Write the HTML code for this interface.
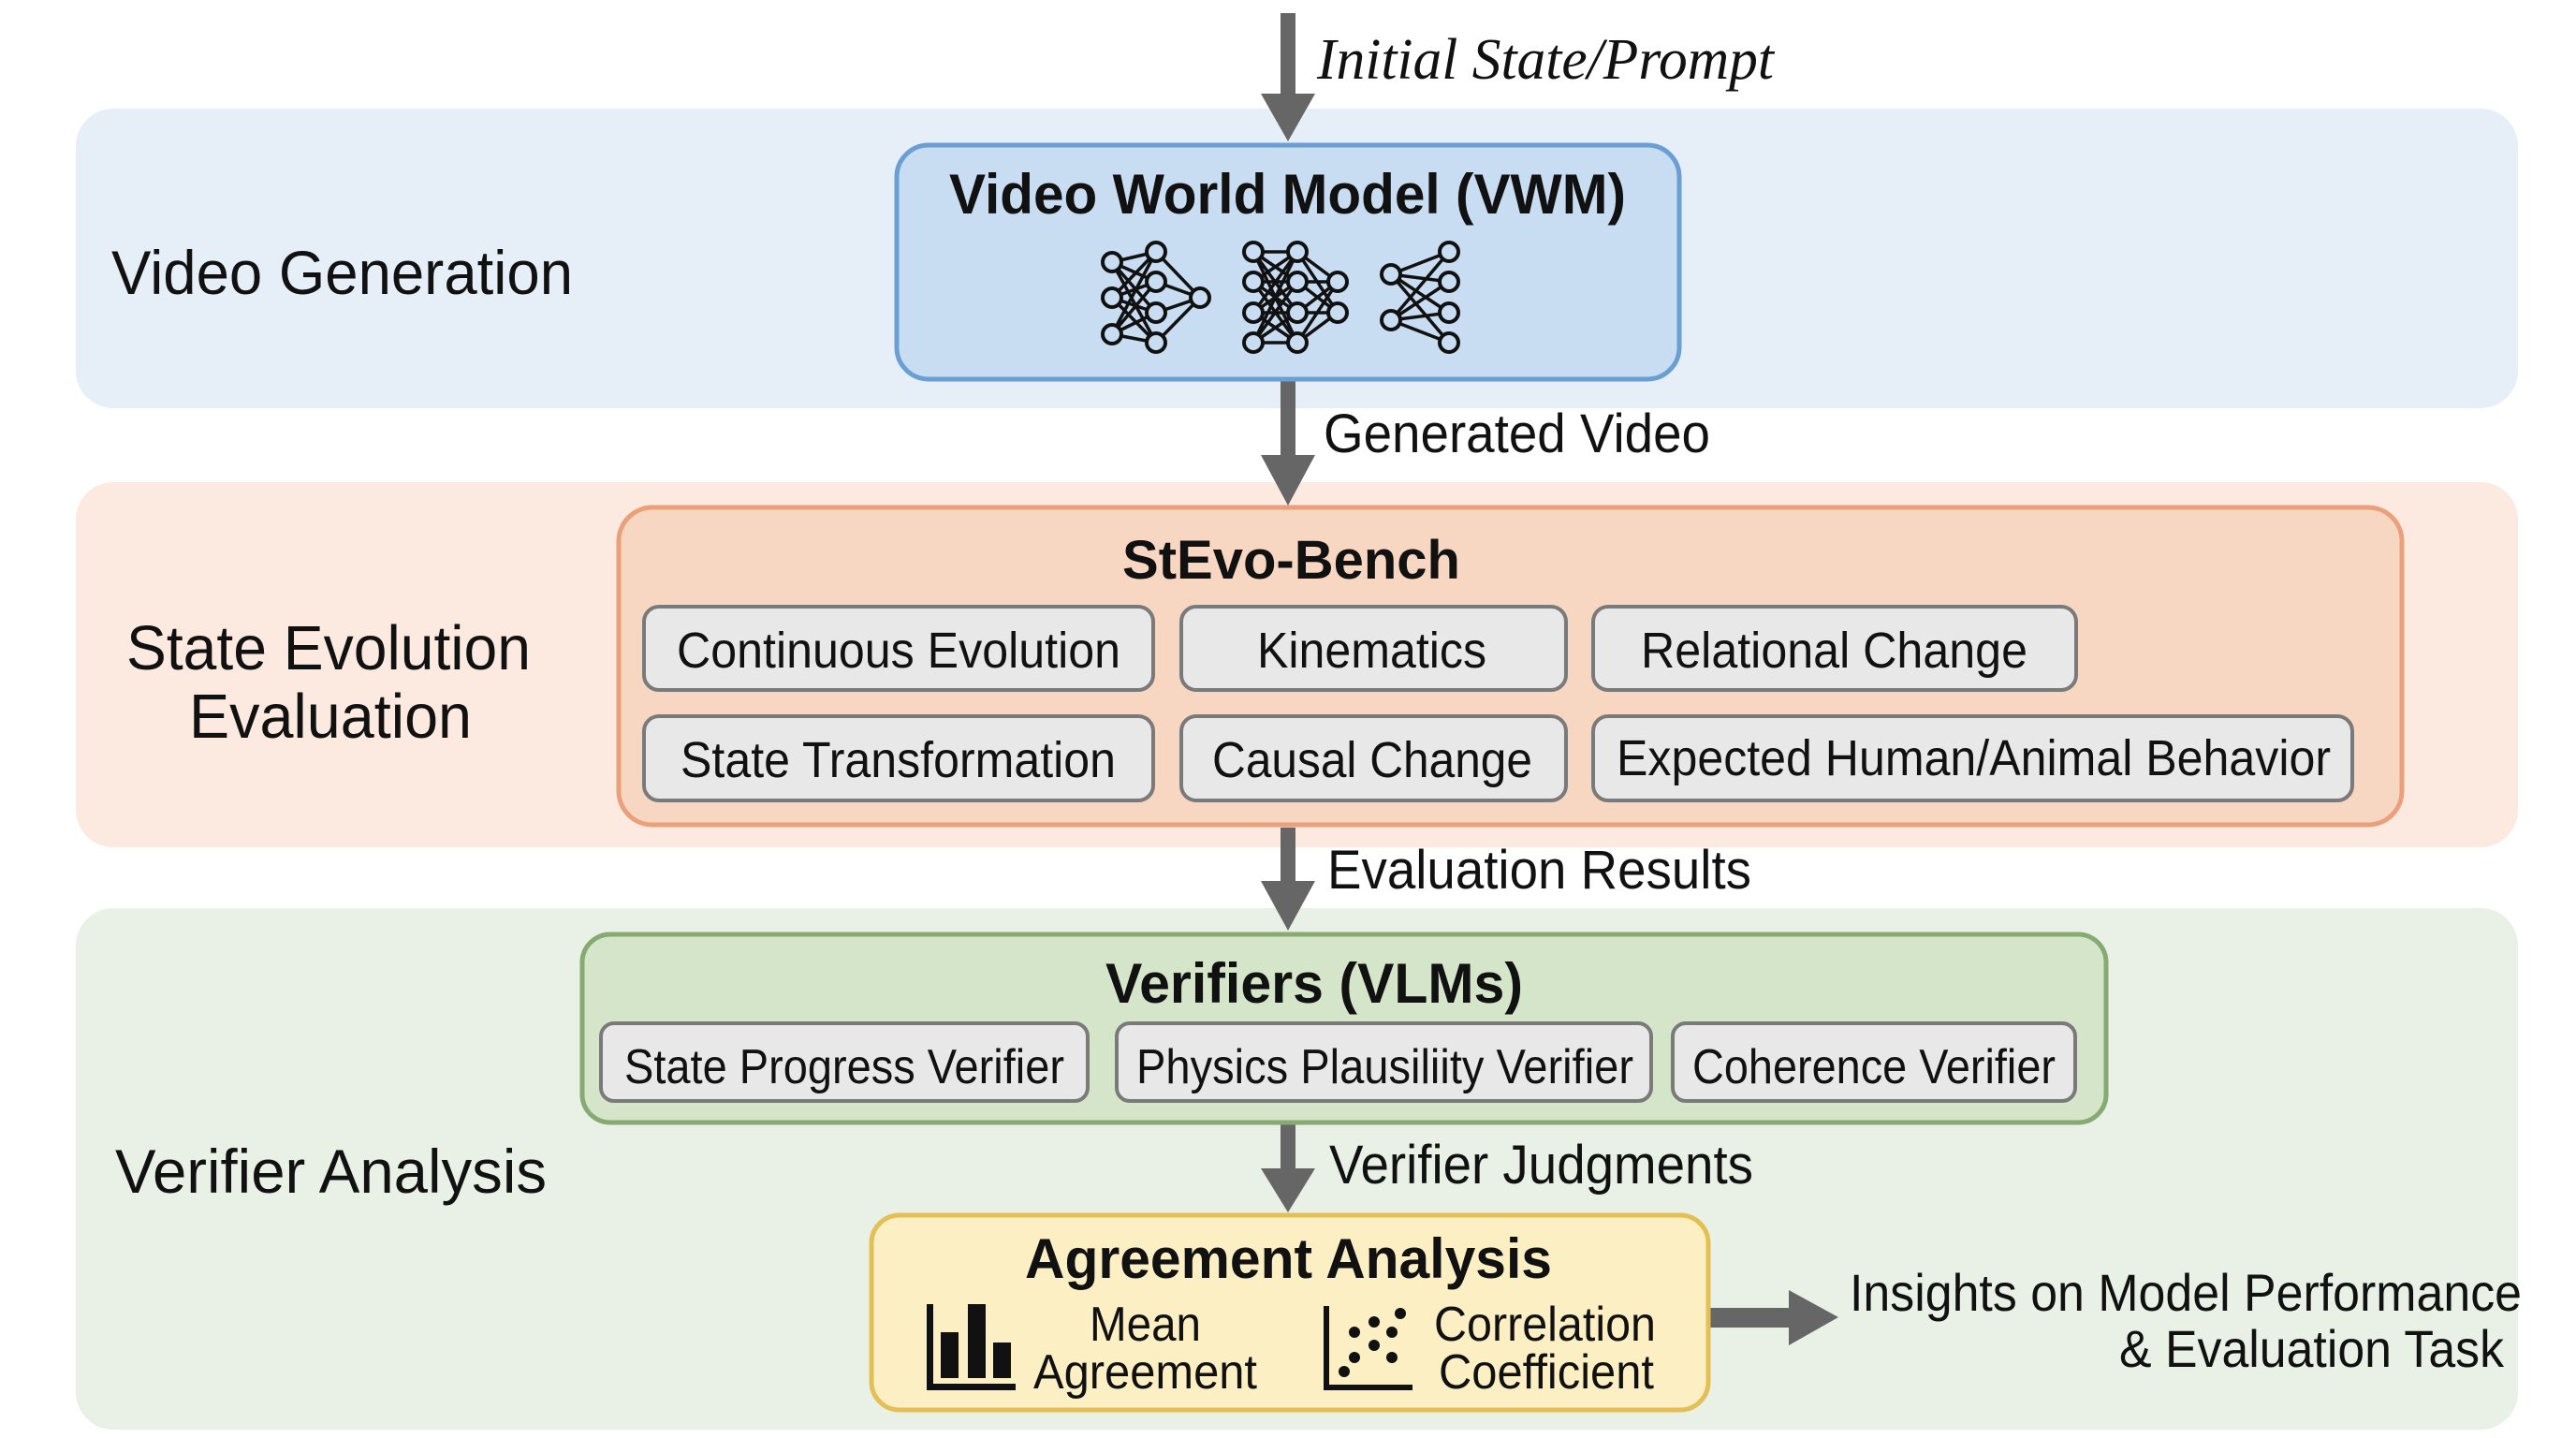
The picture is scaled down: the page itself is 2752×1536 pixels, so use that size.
<!DOCTYPE html>
<html><head><meta charset="utf-8"><style>
html,body{margin:0;padding:0;background:#fff;}
svg{display:block;}
text{font-family:"Liberation Sans",Arial,sans-serif;fill:#111;}
</style></head><body>
<svg width="2752" height="1536" viewBox="0 0 2752 1536" xmlns="http://www.w3.org/2000/svg">
<!-- bands -->
<rect x="81" y="116" width="2609" height="320" rx="40" fill="#e6eff8"/>
<rect x="81" y="515" width="2609" height="390" rx="40" fill="#fce9df"/>
<rect x="81" y="970" width="2609" height="557" rx="40" fill="#e9f0e6"/>

<!-- band labels -->
<text x="119" y="314" font-size="66" textLength="493" lengthAdjust="spacingAndGlyphs">Video Generation</text>
<text x="135" y="715" font-size="67" textLength="432" lengthAdjust="spacingAndGlyphs">State Evolution</text>
<text x="202" y="788" font-size="67" textLength="302" lengthAdjust="spacingAndGlyphs">Evaluation</text>
<text x="123" y="1274" font-size="66" textLength="461" lengthAdjust="spacingAndGlyphs">Verifier Analysis</text>

<!-- arrows -->
<g fill="#666">
<rect x="1368" y="14" width="16" height="88"/><polygon points="1347,100 1405,100 1376,151"/>
<rect x="1368" y="407" width="16" height="82"/><polygon points="1347,486 1405,486 1376,540"/>
<rect x="1368" y="884" width="16" height="60"/><polygon points="1347,941 1405,941 1376,994"/>
<rect x="1368" y="1200" width="16" height="52"/><polygon points="1347,1248 1405,1248 1376,1295"/>
<rect x="1827" y="1397" width="88" height="21"/><polygon points="1911,1378 1911,1437 1964,1407"/>
</g>
<text x="1407" y="84" font-family="Liberation Serif,serif" font-style="italic" font-size="62" textLength="488" lengthAdjust="spacingAndGlyphs" style="font-family:'Liberation Serif',serif">Initial State/Prompt</text>
<text x="1414" y="483" font-size="58" textLength="413" lengthAdjust="spacingAndGlyphs">Generated Video</text>
<text x="1418" y="949" font-size="58" textLength="453" lengthAdjust="spacingAndGlyphs">Evaluation Results</text>
<text x="1420" y="1264" font-size="58" textLength="453" lengthAdjust="spacingAndGlyphs">Verifier Judgments</text>
<text x="1976" y="1400" font-size="56" textLength="718" lengthAdjust="spacingAndGlyphs">Insights on Model Performance</text>
<text x="2264" y="1460" font-size="56" textLength="411" lengthAdjust="spacingAndGlyphs">&amp; Evaluation Task</text>

<!-- VWM -->
<rect x="958" y="155" width="836" height="250" rx="34" fill="#c8ddf2" stroke="#6b9fd4" stroke-width="5"/>
<text x="1014" y="228" font-size="60" font-weight="bold" textLength="723" lengthAdjust="spacingAndGlyphs">Video World Model (VWM)</text>
<g stroke="#111" stroke-width="3.5" fill="none">
<path d="M1188 280L1235 269M1188 280L1235 301M1188 280L1235 334M1188 280L1235 366M1188 318L1235 269M1188 318L1235 301M1188 318L1235 334M1188 318L1235 366M1188 357L1235 269M1188 357L1235 301M1188 357L1235 334M1188 357L1235 366M1235 269L1282 318M1235 301L1282 318M1235 334L1282 318M1235 366L1282 318"/>
<path d="M1339 269L1386 269M1339 269L1386 301M1339 269L1386 334M1339 269L1386 366M1339 301L1386 269M1339 301L1386 301M1339 301L1386 334M1339 301L1386 366M1339 334L1386 269M1339 334L1386 301M1339 334L1386 334M1339 334L1386 366M1339 366L1386 269M1339 366L1386 301M1339 366L1386 334M1339 366L1386 366M1386 269L1429 301M1386 301L1429 301M1386 334L1429 301M1386 366L1429 301M1386 269L1429 334M1386 301L1429 334M1386 334L1429 334M1386 366L1429 334"/>
<path d="M1486 293L1548 269M1486 293L1548 301M1486 293L1548 334M1486 293L1548 366M1486 342L1548 269M1486 342L1548 301M1486 342L1548 334M1486 342L1548 366"/>
</g>
<g stroke="#111" stroke-width="4" fill="#c8ddf2">
<circle cx="1188" cy="280" r="10"/><circle cx="1188" cy="318" r="10"/><circle cx="1188" cy="357" r="10"/>
<circle cx="1235" cy="269" r="10"/><circle cx="1235" cy="301" r="10"/><circle cx="1235" cy="334" r="10"/><circle cx="1235" cy="366" r="10"/>
<circle cx="1282" cy="318" r="10"/>
<circle cx="1339" cy="269" r="10"/><circle cx="1339" cy="301" r="10"/><circle cx="1339" cy="334" r="10"/><circle cx="1339" cy="366" r="10"/>
<circle cx="1386" cy="269" r="10"/><circle cx="1386" cy="301" r="10"/><circle cx="1386" cy="334" r="10"/><circle cx="1386" cy="366" r="10"/>
<circle cx="1429" cy="301" r="10"/><circle cx="1429" cy="334" r="10"/>
<circle cx="1486" cy="293" r="10"/><circle cx="1486" cy="342" r="10"/>
<circle cx="1548" cy="269" r="10"/><circle cx="1548" cy="301" r="10"/><circle cx="1548" cy="334" r="10"/><circle cx="1548" cy="366" r="10"/>
</g>

<!-- StEvo -->
<rect x="661" y="542" width="1905" height="339" rx="36" fill="#f7d6c2" stroke="#eaa07a" stroke-width="5"/>
<text x="1199" y="618" font-size="58" font-weight="bold" textLength="361" lengthAdjust="spacingAndGlyphs">StEvo-Bench</text>
<g fill="#e8e8e8" stroke="#7a7a7a" stroke-width="4">
<rect x="688" y="648" width="544" height="89" rx="16"/>
<rect x="1262" y="648" width="411" height="89" rx="16"/>
<rect x="1702" y="648" width="516" height="89" rx="16"/>
<rect x="688" y="765" width="544" height="90" rx="16"/>
<rect x="1262" y="765" width="411" height="90" rx="16"/>
<rect x="1702" y="765" width="811" height="90" rx="16"/>
</g>
<g font-size="54">
<text x="723" y="713" textLength="474" lengthAdjust="spacingAndGlyphs">Continuous Evolution</text>
<text x="1343" y="713" textLength="245" lengthAdjust="spacingAndGlyphs">Kinematics</text>
<text x="1753" y="713" textLength="413" lengthAdjust="spacingAndGlyphs">Relational Change</text>
<text x="727" y="830" textLength="465" lengthAdjust="spacingAndGlyphs">State Transformation</text>
<text x="1295" y="830" textLength="342" lengthAdjust="spacingAndGlyphs">Causal Change</text>
<text x="1727" y="828" textLength="763" lengthAdjust="spacingAndGlyphs">Expected Human/Animal Behavior</text>
</g>

<!-- Verifiers -->
<rect x="622" y="998" width="1628" height="201" rx="30" fill="#d4e5c9" stroke="#86ab72" stroke-width="5"/>
<text x="1181" y="1071" font-size="60" font-weight="bold" textLength="446" lengthAdjust="spacingAndGlyphs">Verifiers (VLMs)</text>
<g fill="#e8e8e8" stroke="#7a7a7a" stroke-width="4">
<rect x="642" y="1093" width="520" height="83" rx="14"/>
<rect x="1193" y="1093" width="571" height="83" rx="14"/>
<rect x="1787" y="1093" width="430" height="83" rx="14"/>
</g>
<g font-size="52">
<text x="667" y="1157" textLength="470" lengthAdjust="spacingAndGlyphs">State Progress Verifier</text>
<text x="1214" y="1157" textLength="531" lengthAdjust="spacingAndGlyphs">Physics Plausiliity Verifier</text>
<text x="1808" y="1157" textLength="388" lengthAdjust="spacingAndGlyphs">Coherence Verifier</text>
</g>

<!-- Agreement -->
<rect x="931" y="1298" width="894" height="208" rx="30" fill="#fcefc4" stroke="#e3bf55" stroke-width="5"/>
<text x="1095" y="1365" font-size="60" font-weight="bold" textLength="563" lengthAdjust="spacingAndGlyphs">Agreement Analysis</text>
<g fill="#111">
<rect x="990" y="1393" width="7" height="92"/><rect x="990" y="1478" width="95" height="7"/>
<rect x="1005" y="1423" width="19" height="49"/><rect x="1034" y="1393" width="19" height="79"/><rect x="1061" y="1434" width="19" height="38"/>
<rect x="1414" y="1395" width="6" height="90"/><rect x="1414" y="1479" width="95" height="6"/>
<circle cx="1436" cy="1465" r="6"/><circle cx="1447" cy="1450" r="6"/><circle cx="1447" cy="1423" r="6"/><circle cx="1468" cy="1437" r="6"/><circle cx="1468" cy="1412" r="6"/><circle cx="1487" cy="1423" r="6"/><circle cx="1487" cy="1450" r="6"/><circle cx="1496" cy="1403" r="6"/>
</g>
<g font-size="52">
<text x="1164" y="1432" textLength="119" lengthAdjust="spacingAndGlyphs">Mean</text>
<text x="1104" y="1483" textLength="239" lengthAdjust="spacingAndGlyphs">Agreement</text>
<text x="1532" y="1432" textLength="237" lengthAdjust="spacingAndGlyphs">Correlation</text>
<text x="1537" y="1483" textLength="230" lengthAdjust="spacingAndGlyphs">Coefficient</text>
</g>
</svg>
</body></html>
